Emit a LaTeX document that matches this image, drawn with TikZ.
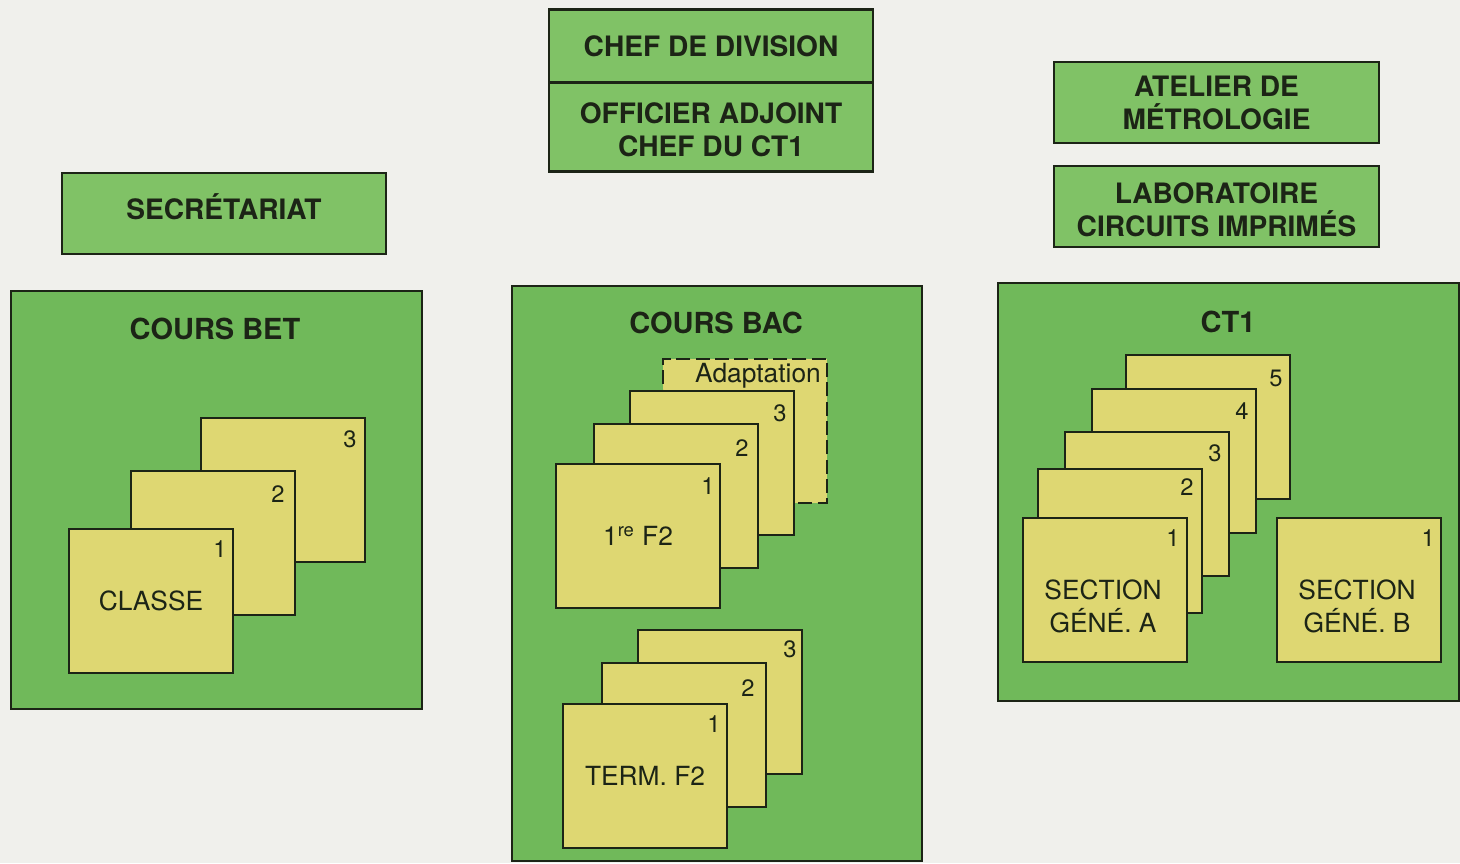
\documentclass[tikz,border=0pt]{standalone}
\usepackage{fontspec}
\setmainfont{TeX Gyre Heros}
\usepackage{xcolor}
\definecolor{paper}{RGB}{240,240,236}
\definecolor{inkline}{RGB}{28,36,22}
\definecolor{boxgreen}{RGB}{112,185,90}
\definecolor{topgreen}{RGB}{128,194,102}
\definecolor{sheetyellow}{RGB}{222,215,114}

\begin{document}
\begin{tikzpicture}[x=0.02cm,y=-0.02cm,
			box/.style={draw=inkline,fill=boxgreen,line width=1.4pt,inner sep=0pt,anchor=north west},
			topbox/.style={draw=inkline,fill=topgreen,line width=1.4pt,inner sep=0pt,outer sep=0pt,minimum width=6.48cm,minimum height=1.62cm,align=center,text=inkline,font=\fontsize{16}{18.7}\selectfont\bfseries},
			sheet/.style={draw=inkline,fill=sheetyellow,line width=1.2pt,inner sep=0pt,minimum width=3.28cm,minimum height=2.88cm,anchor=north west,align=center,text=inkline,font=\fontsize{15}{18.7}\selectfont},
			sheettext/.style={inner sep=0pt,align=center,text=inkline,font=\fontsize{15}{18.7}\selectfont},
			num/.style={inner sep=0pt,text=inkline,font=\fontsize{13.5}{15}\selectfont},
			title/.style={inner sep=0pt,text=inkline,font=\fontsize{16.5}{19}\selectfont\bfseries}]
			\fill[paper] (0,0) rectangle (1460,863);
			\useasboundingbox (0,0) rectangle (1460,863);

			\node[topbox,text height=0.72em,text depth=0pt] (secretariat) at (224,213.5) {SECRÉTARIAT};
			\node[topbox,minimum height=1.46cm] (chefdiv) at (711,46) {CHEF DE DIVISION};
			\node[topbox,minimum height=1.78cm,anchor=north] (adjoint) at (chefdiv.south) {\rule{0pt}{0.95em}OFFICIER ADJOINT\\CHEF DU CT1};
			\node[topbox,minimum width=6.5cm] (atelier) at (1216.5,102.5) {ATELIER DE\\MÉTROLOGIE};
			\node[topbox,minimum width=6.5cm] (labo) at (1216.5,206.5) {\rule{0pt}{0.95em}LABORATOIRE\\CIRCUITS IMPRIMÉS};

			\node[box,minimum width=8.22cm,minimum height=8.36cm] (bet) at (10,290) {};
			\node[box,minimum width=8.2cm,minimum height=11.5cm] (bac) at (511,285) {};
			\node[box,minimum width=9.22cm,minimum height=8.36cm] (ct) at (997,282) {};
			\node[title] (bettitle) at (215,329) {COURS BET};
			\node[title] (bactitle) at (716,323) {COURS BAC};
			\node[title] (cttitle) at (1228,322) {CT1};

			\node[sheet] (bet3) at (200,417) {};
			\node[num] (bet3n) at ([shift={(-16,22)}]bet3.north east) {3};
			\node[sheet] (bet2) at (130,470) {};
			\node[num] (bet2n) at ([shift={(-18,24)}]bet2.north east) {2};
			\node[sheet] (bet1) at (68,528) {CLASSE};
			\node[num] (bet1n) at ([shift={(-14,21)}]bet1.north east) {1};

			\node[sheet,dash pattern=on 8pt off 3pt] (adapt) at (662,358) {};
			\node[sheettext] (adapttext) at (758,376) {Adaptation};
			\node[sheet] (prem3) at (629,390) {};
			\node[num] (prem3n) at ([shift={(-15,23)}]prem3.north east) {3};
			\node[sheet] (prem2) at (593,423) {};
			\node[num] (prem2n) at ([shift={(-17,25)}]prem2.north east) {2};
			\node[sheet] (prem1) at (555,463) {1\textsuperscript{re} F2};
			\node[num] (prem1n) at ([shift={(-13,23)}]prem1.north east) {1};

			\node[sheet] (term3) at (637,629) {};
			\node[num] (term3n) at ([shift={(-13,20)}]term3.north east) {3};
			\node[sheet] (term2) at (601,662) {};
			\node[num] (term2n) at ([shift={(-19,26)}]term2.north east) {2};
			\node[sheet] (term1) at (562,703) {TERM. F2};
			\node[num] (term1n) at ([shift={(-14,21)}]term1.north east) {1};

			\node[sheet] (sec5) at (1125,354) {};
			\node[num] (sec5n) at ([shift={(-15,24)}]sec5.north east) {5};
			\node[sheet] (sec4) at (1091,388) {};
			\node[num] (sec4n) at ([shift={(-15,23)}]sec4.north east) {4};
			\node[sheet] (sec3) at (1064,431) {};
			\node[num] (sec3n) at ([shift={(-15,22)}]sec3.north east) {3};
			\node[sheet] (sec2) at (1037,468) {};
			\node[num] (sec2n) at ([shift={(-16,19)}]sec2.north east) {2};
			\node[sheet] (secA) at (1022,517) {};
			\node[num] (secAn) at ([shift={(-15,21)}]secA.north east) {1};
			\node[sheettext] (secAtext) at ([shift={(-2,16)}]secA.center) {SECTION\\GÉNÉ. A};
			\node[sheet] (secB) at (1276,517) {};
			\node[num] (secBn) at ([shift={(-14,21)}]secB.north east) {1};
			\node[sheettext] (secBtext) at ([shift={(-2,16)}]secB.center) {SECTION\\GÉNÉ. B};
		\end{tikzpicture}
\end{document}
